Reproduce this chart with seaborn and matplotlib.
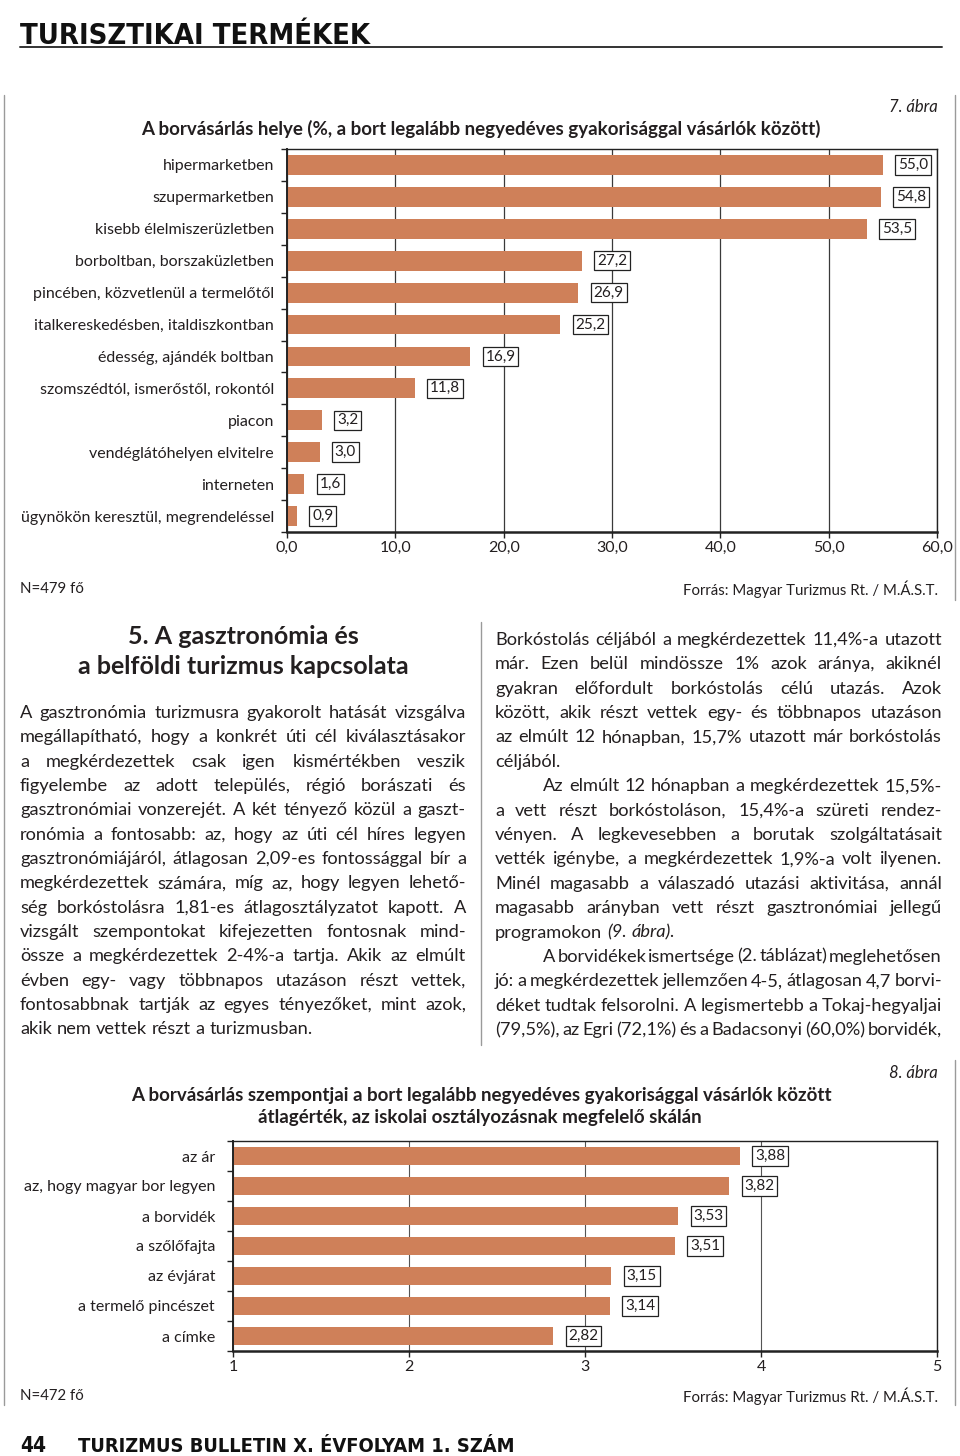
import numpy as np
import pandas as pd
import matplotlib
matplotlib.use("Agg")
import matplotlib.pyplot as plt
from matplotlib.lines import Line2D
import seaborn as sns

# ---------------- data ----------------
PLACES = ["hipermarketben", "szupermarketben", "kisebb élelmiszerüzletben",
          "borboltban, borszaküzletben", "pincében, közvetlenül a termelőtől",
          "italkereskedésben, italdiszkontban", "édesség, ajándék boltban",
          "szomszédtól, ismerőstől, rokontól", "piacon", "vendéglátóhelyen elvitelre",
          "interneten", "ügynökön keresztül, megrendeléssel"]
PLACE_SHARE = [55.0, 54.8, 53.5, 27.2, 26.9, 25.2, 16.9, 11.8, 3.2, 3.0, 1.6, 0.9]
PLACE_TICKS = [0, 10, 20, 30, 40, 50, 60]

ASPECTS = ["az ár", "az, hogy magyar bor legyen", "a borvidék", "a szőlőfajta",
           "az évjárat", "a termelő pincészet", "a címke"]
ASPECT_SCORE = [3.88, 3.82, 3.53, 3.51, 3.15, 3.14, 2.82]
ASPECT_TICKS = [1, 2, 3, 4, 5]

LEFT_HEAD = ["5. A gasztronómia és", "a belföldi turizmus kapcsolata"]
# '>' = indented first line, '|' at end = not justified, '*' = italic word
LEFT_TEXT = [
    "A gasztronómia turizmusra gyakorolt hatását vizsgálva",
    "megállapítható, hogy a konkrét úti cél kiválasztásakor",
    "a megkérdezettek csak igen kismértékben veszik",
    "figyelembe az adott település, régió borászati és",
    "gasztronómiai vonzerejét. A két tényező közül a gaszt-",
    "ronómia a fontosabb: az, hogy az úti cél híres legyen",
    "gasztronómiájáról, átlagosan 2,09-es fontossággal bír a",
    "megkérdezettek számára, míg az, hogy legyen lehető-",
    "ség borkóstolásra 1,81-es átlagosztályzatot kapott. A",
    "vizsgált szempontokat kifejezetten fontosnak mind-",
    "össze a megkérdezettek 2-4%-a tartja. Akik az elmúlt",
    "évben egy- vagy többnapos utazáson részt vettek,",
    "fontosabbnak tartják az egyes tényezőket, mint azok,",
    "akik nem vettek részt a turizmusban.|",
]
RIGHT_TEXT = [
    "Borkóstolás céljából a megkérdezettek 11,4%-a utazott",
    "már. Ezen belül mindössze 1% azok aránya, akiknél",
    "gyakran előfordult borkóstolás célú utazás. Azok",
    "között, akik részt vettek egy- és többnapos utazáson",
    "az elmúlt 12 hónapban, 15,7% utazott már borkóstolás",
    "céljából.|",
    ">Az elmúlt 12 hónapban a megkérdezettek 15,5%-",
    "a vett részt borkóstoláson, 15,4%-a szüreti rendez-",
    "vényen. A legkevesebben a borutak szolgáltatásait",
    "vették igénybe, a megkérdezettek 1,9%-a volt ilyenen.",
    "Minél magasabb a válaszadó utazási aktivitása, annál",
    "magasabb arányban vett részt gasztronómiai jellegű",
    "programokon *(9. *ábra).|",
    ">A borvidékek ismertsége (2. táblázat) meglehetősen",
    "jó: a megkérdezettek jellemzően 4-5, átlagosan 4,7 borvi-",
    "déket tudtak felsorolni. A legismertebb a Tokaj-hegyaljai",
    "(79,5%), az Egri (72,1%) és a Badacsonyi (60,0%) borvidék,",
]

# ---------------- style ----------------
sns.set_style("white")
BODY = ["Lato", "DejaVu Sans"]
COND = ["DejaVu Sans"]
plt.rcParams["font.family"] = BODY
INK = "#231f20"
BAR = "#cf8059"
W, H = 960, 1456

fig = plt.figure(figsize=(9.6, 14.56), dpi=100)
fig.patch.set_facecolor("white")


def fx(x):
    return x / W


def fy(y):
    return 1 - y / H


def ftext(x, y, s, **kw):
    kw.setdefault("color", INK)
    return fig.text(fx(x), fy(y), s, **kw)


def fline(xs, ys, **kw):
    fig.add_artist(Line2D([fx(v) for v in xs], [fy(v) for v in ys],
                          transform=fig.transFigure, **kw))


renderer = fig.canvas.get_renderer()


def fit_text(x, y, s, target_w, size, **kw):
    t = ftext(x, y, s, fontsize=size, **kw)
    w = t.get_window_extent(renderer).width
    t.set_fontsize(size * target_w / w)
    return t


# ---------------- page header / frame ----------------
fit_text(20, 44, "TURISZTIKAI TERMÉKEK", 350, 20, family=COND, fontweight="bold",
         fontstretch="condensed", va="baseline", ha="left", color="#111")
fline([20, 942], [47, 47], color="#333", lw=1.4)
fline([4, 4], [95, 1405], color="#9a9a9a", lw=1.0)
fline([955, 955], [95, 600], color="#9a9a9a", lw=1.0)
fline([955, 955], [1060, 1405], color="#9a9a9a", lw=1.0)
fline([481, 481], [622, 1045], color="#9a9a9a", lw=1.0)
fit_text(20, 1452, "44", 26, 16, family=COND, fontweight="bold",
         fontstretch="condensed", va="baseline", ha="left", color="#111")
fit_text(78, 1452, "TURIZMUS BULLETIN X. ÉVFOLYAM 1. SZÁM", 440, 16, family=COND,
         fontweight="bold", fontstretch="condensed", va="baseline", ha="left", color="#111")


def comma(v, nd):
    return f"{v:.{nd}f}".replace(".", ",")


def bar_chart(ax, cats, vals, ticks, tick_nd, val_nd, xlim, width, lab_pad_px):
    sns.barplot(x=vals, y=cats, orient="h", color=BAR, saturation=1,
                width=width, edgecolor="none", ax=ax)
    n = len(cats)
    ax.set_ylim(n - 0.5, -0.5)
    ax.set_xlim(*xlim)
    ax.set_xticks(ticks)
    ax.set_xticklabels([comma(t, tick_nd) for t in ticks])
    ax.set_yticks(np.arange(-0.5, n, 1.0), minor=True)
    ax.tick_params(axis="y", which="major", length=0, pad=lab_pad_px / 1.389,
                   labelsize=11.5, labelcolor=INK)
    ax.tick_params(axis="y", which="minor", length=4.5, width=1.0,
                   direction="out", color="#222", left=True)
    ax.tick_params(axis="x", which="major", length=4, width=1.0, direction="out",
                   color="#222", pad=2.5, labelsize=11.5, labelcolor=INK, bottom=True)
    ax.set_xlabel("")
    ax.set_ylabel("")
    ax.xaxis.grid(True, color="#3a3a3a", lw=0.9)
    ax.yaxis.grid(False)
    ax.set_axisbelow(True)
    for side, sp in ax.spines.items():
        sp.set_visible(True)
        sp.set_color("#222")
        sp.set_linewidth(1.0)
    ax.spines["bottom"].set_linewidth(1.8)
    ax.spines["left"].set_linewidth(1.4)
    for i, v in enumerate(vals):
        ax.annotate(comma(v, val_nd), xy=(v, i), xytext=(11, 0),
                    textcoords="offset points", ha="left", va="center",
                    fontsize=11, color=INK,
                    bbox=dict(boxstyle="square,pad=0.18", fc="white",
                              ec="#222", lw=0.9))


# ---------------- chart 7 ----------------
ax1 = fig.add_axes([fx(287), fy(532), (937 - 287) / W, (532 - 149) / H])
bar_chart(ax1, PLACES, PLACE_SHARE, PLACE_TICKS, 1, 1, (0, 60), 0.62, 13)
ftext(938, 107, "7. ábra", ha="right", va="center", fontsize=12, style="italic")
ftext(481, 129, "A borvásárlás helye (%, a bort legalább negyedéves gyakorisággal vásárlók között)",
      ha="center", va="center", fontsize=13.5, fontweight="bold")
ftext(20, 589, "N=479 fő", ha="left", va="center", fontsize=10.8)
ftext(938, 589, "Forrás: Magyar Turizmus Rt. / M.Á.S.T.", ha="right", va="center", fontsize=10.8)

# ---------------- chart 8 ----------------
ax2 = fig.add_axes([fx(233), fy(1351), (937 - 233) / W, (1351 - 1141) / H])
bar_chart(ax2, ASPECTS, ASPECT_SCORE, ASPECT_TICKS, 0, 2, (1, 5), 0.6, 18)
ax2.xaxis.grid(True, color="#555", lw=0.8)
ftext(938, 1073, "8. ábra", ha="right", va="center", fontsize=12, style="italic")
ftext(481, 1095, "A borvásárlás szempontjai a bort legalább negyedéves gyakorisággal vásárlók között",
      ha="center", va="center", fontsize=13.5, fontweight="bold")
ftext(480, 1118, "átlagérték, az iskolai osztályozásnak megfelelő skálán",
      ha="center", va="center", fontsize=13.5, fontweight="bold")
ftext(20, 1396, "N=472 fő", ha="left", va="center", fontsize=10.8)
ftext(938, 1396, "Forrás: Magyar Turizmus Rt. / M.Á.S.T.", ha="right", va="center", fontsize=10.8)

# ---------------- body text ----------------
ftext(243, 637, LEFT_HEAD[0], ha="center", va="center", fontsize=18, fontweight="bold")
ftext(243, 667, LEFT_HEAD[1], ha="center", va="center", fontsize=18, fontweight="bold")


def measure(s, size, style="normal"):
    t = fig.text(0, 0, s, fontsize=size, style=style)
    w = t.get_window_extent(renderer).width
    t.remove()
    return w


def parse(line):
    indent = line.startswith(">")
    just = not line.endswith("|")
    line = line.strip(">|")
    words = []
    for w in line.split(" "):
        if w.startswith("*"):
            words.append((w[1:], "italic"))
        else:
            words.append((w, "normal"))
    return indent, just, words


BASE = 12.0
space0 = measure("a a", BASE) - measure("aa", BASE)
MINGAP = 0.45
ratios_nat, ratios_min = [], []
for lines, colw in ((LEFT_TEXT, 446), (RIGHT_TEXT, 447)):
    for ln in lines:
        ind, just, words = parse(ln)
        if not just:
            continue
        wsum = sum(measure(w, BASE, st) for w, st in words)
        avail = colw - (48 if ind else 0)
        ratios_nat.append((wsum + space0 * (len(words) - 1)) / avail)
        ratios_min.append((wsum + MINGAP * space0 * (len(words) - 1)) / avail)
scale = min(0.99 / np.median(ratios_nat), 1.0 / max(ratios_min))
SIZE = BASE * scale
space = measure("a a", SIZE) - measure("aa", SIZE)


def draw_column(lines, x0, x1, y0, dy):
    for i, ln in enumerate(lines):
        ind, just, words = parse(ln)
        xs = x0 + (48 if ind else 0)
        ws = [measure(w, SIZE, st) for w, st in words]
        if just and len(words) > 1:
            gap = (x1 - xs - sum(ws)) / (len(words) - 1)
        else:
            gap = space
        yb = y0 + i * dy + 5
        x = xs
        for (w, st), wd in zip(words, ws):
            ftext(x, yb, w, fontsize=SIZE, style=st, ha="left", va="baseline")
            x += wd + gap


draw_column(LEFT_TEXT, 20, 466, 713, 24.33)
draw_column(RIGHT_TEXT, 495, 942, 640, 24.375)

fig.savefig("out.png", dpi=100, facecolor="white")
